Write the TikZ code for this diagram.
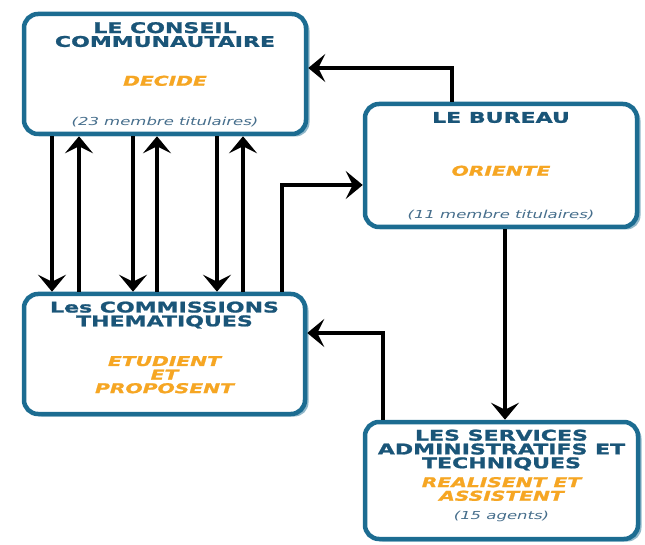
\documentclass[tikz,border=0pt]{standalone}
\usepackage{fontspec}
\usetikzlibrary{arrows.meta,shadows}
\newfontfamily\verd[FakeStretch=1.5,BoldFeatures={FakeBold=1.3},BoldItalicFeatures={FakeBold=1.3}]{DejaVu Sans}
\definecolor{bordbleu}{RGB}{28,108,145}
\definecolor{titrebleu}{RGB}{26,85,120}
\definecolor{roleorange}{RGB}{246,166,35}
\definecolor{nbgris}{RGB}{70,110,140}
\tikzset{
  boite/.style={draw=bordbleu,line width=4.5pt,rounded corners=14pt,fill=white,
    drop shadow={shadow xshift=3.5pt,shadow yshift=-2.5pt,fill=bordbleu!80,opacity=0.6}},
  titre/.style={inner sep=0pt,align=center,text=titrebleu,
    font=\verd\bfseries\fontsize{14.7}{13.8}\selectfont},
  role/.style={inner sep=0pt,align=center,text=roleorange,
    font=\verd\bfseries\itshape\fontsize{13.5}{13.6}\selectfont},
  nb/.style={inner sep=0pt,text=nbgris,font=\verd\itshape\fontsize{11}{11}\selectfont},
  fleche/.style={line width=3.2pt,-{Stealth[length=17pt,width=28pt,inset=7pt]}}
}
\begin{document}
\begin{tikzpicture}[x=1pt,y=-1pt]
  \useasboundingbox (0,0) rectangle (645,545);
  %les quatre boites
  \node[boite,minimum width=282pt,minimum height=120pt] (conseil) at (165,74) {};
  \node[boite,minimum width=272pt,minimum height=123pt] (bureau) at (501,165.5) {};
  \node[boite,minimum width=281pt,minimum height=120pt] (comm) at (164.5,354) {};
  \node[boite,minimum width=273pt,minimum height=117pt] (services) at (501.5,480.5) {};
  %textes
  \node[titre] (conseiltitre) at (165,34.6) {LE CONSEIL\\COMMUNAUTAIRE};
  \node[role] (conseilrole) at (165,80.8) {DECIDE};
  \node[nb] (conseilnb) at (165,122) {(23 membre titulaires)};
  \node[titre] (bureautitre) at (501,117.5) {LE BUREAU};
  \node[role] (bureaurole) at (501,170.8) {ORIENTE};
  \node[nb] (bureaunb) at (501,215.5) {(11 membre titulaires)};
  \node[titre] (commtitre) at (164.5,315) {Les COMMISSIONS\\THEMATIQUES};
  \node[role] (commrole) at (164.5,374.7) {ETUDIENT\\ET\\PROPOSENT};
  \node[titre] (servicestitre) at (501.5,450) {LES SERVICES\\ADMINISTRATIFS ET\\TECHNIQUES};
  \node[role] (servicesrole) at (501.5,489) {REALISENT ET\\ASSISTENT};
  \node[nb] (servicesnb) at (501.5,516.7) {(15 agents)};
  %fleches conseil / commissions
  \foreach \x in {52,133,217}
    \draw[fleche] (\x,0 |- conseil.south) -- (\x,0 |- comm.north);
  \foreach \x in {79,157,243}
    \draw[fleche] (\x,0 |- comm.north) -- (\x,0 |- conseil.south);
  %liens avec le bureau
  \draw[fleche] (282,0 |- comm.north) |- (bureau.west |- 0,185);
  \draw[fleche] (452,0 |- bureau.north) |- (conseil.east |- 0,68);
  \draw[fleche] (505,0 |- bureau.south) -- (505,0 |- services.north);
  \draw[fleche] (383,0 |- services.north) |- (comm.east |- 0,333);
\end{tikzpicture}
\end{document}
